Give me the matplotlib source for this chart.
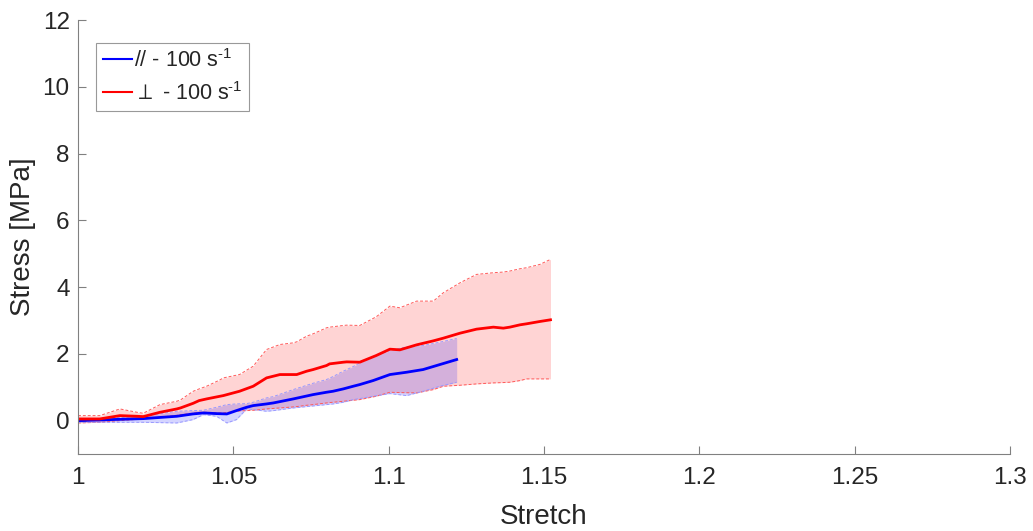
import numpy as np
import matplotlib
matplotlib.use("Agg")
import matplotlib.pyplot as plt

plt.rcParams['font.family'] = ['Liberation Sans', 'DejaVu Sans']
plt.rcParams['mathtext.fontset'] = 'custom'
plt.rcParams['mathtext.rm'] = 'Liberation Sans'
plt.rcParams['mathtext.it'] = 'Liberation Sans'
plt.rcParams['mathtext.fallback'] = 'stixsans'

# Perpendicular (red) series
red_x = [1.0, 1.007, 1.0135, 1.019, 1.021, 1.0264, 1.0318, 1.033, 1.0371, 1.039, 1.0414, 1.0457,
         1.0468, 1.052, 1.0564, 1.0607, 1.065, 1.0693, 1.0704, 1.0736, 1.0757, 1.08, 1.081,
         1.0854, 1.0865, 1.0907, 1.096, 1.1004, 1.1036, 1.109, 1.1144, 1.1176, 1.123, 1.1283,
         1.1337, 1.1369, 1.139, 1.1423, 1.1444, 1.1487, 1.1521]
red_mean = [0.05, 0.05, 0.15, 0.13, 0.12, 0.25, 0.35, 0.38, 0.52, 0.6, 0.65, 0.73,
            0.75, 0.88, 1.03, 1.28, 1.38, 1.38, 1.38, 1.48, 1.53, 1.65, 1.7,
            1.75, 1.76, 1.75, 1.95, 2.14, 2.12, 2.27, 2.39, 2.47, 2.62, 2.74,
            2.8, 2.77, 2.8, 2.87, 2.9, 2.97, 3.02]
red_upper = [0.15, 0.15, 0.35, 0.25, 0.22, 0.48, 0.58, 0.62, 0.88, 0.95, 1.03, 1.22,
             1.28, 1.38, 1.63, 2.13, 2.28, 2.33, 2.36, 2.53, 2.6, 2.78, 2.8,
             2.85, 2.86, 2.85, 3.11, 3.43, 3.38, 3.58, 3.58, 3.83, 4.13, 4.38,
             4.43, 4.45, 4.48, 4.55, 4.58, 4.68, 4.83]
red_lower = [-0.07, -0.05, 0.0, 0.04, 0.05, 0.1, 0.16, 0.18, 0.22, 0.25, 0.25, 0.23,
             0.23, 0.29, 0.31, 0.35, 0.38, 0.41, 0.42, 0.46, 0.48, 0.53, 0.54,
             0.58, 0.59, 0.63, 0.73, 0.85, 0.84, 0.83, 0.93, 1.03, 1.06, 1.1,
             1.13, 1.14, 1.15, 1.2, 1.25, 1.25, 1.25]

# Parallel (blue) series
blue_x = [1.0, 1.0103, 1.021, 1.0318, 1.037, 1.0404, 1.0446, 1.0479, 1.051, 1.0543, 1.0564,
          1.0607, 1.0629, 1.0693, 1.0757, 1.08, 1.0821, 1.0854, 1.0886, 1.0907, 1.095,
          1.1004, 1.1058, 1.1111, 1.1165, 1.1219]
blue_mean = [0.0, 0.03, 0.06, 0.13, 0.2, 0.23, 0.21, 0.2, 0.3, 0.4, 0.45,
             0.5, 0.53, 0.65, 0.78, 0.85, 0.88, 0.95, 1.03, 1.08, 1.2,
             1.38, 1.45, 1.53, 1.68, 1.83]
blue_upper = [0.03, 0.08, 0.13, 0.28, 0.3, 0.31, 0.4, 0.48, 0.5, 0.51, 0.55,
              0.68, 0.72, 0.93, 1.12, 1.23, 1.32, 1.48, 1.62, 1.73, 1.9,
              2.1, 2.21, 2.25, 2.35, 2.46]
blue_lower = [-0.05, -0.05, -0.05, -0.07, 0.03, 0.18, 0.13, -0.07, 0.03, 0.35, 0.33,
              0.28, 0.3, 0.38, 0.44, 0.48, 0.5, 0.55, 0.63, 0.66, 0.73,
              0.81, 0.75, 0.88, 1.03, 1.15]

x_ticks = [1, 1.05, 1.1, 1.15, 1.2, 1.25, 1.3]
x_labels = ['1', '1.05', '1.1', '1.15', '1.2', '1.25', '1.3']
y_ticks = [0, 2, 4, 6, 8, 10, 12]

txt = '#262626'
fig = plt.figure(figsize=(10.33, 5.31), dpi=100)
ax = fig.add_axes([0.0755, 0.145, 0.9022, 0.8173])

ax.fill_between(red_x, red_lower, red_upper, color=(1, 0, 0), alpha=0.17, linewidth=0)
ax.fill_between(blue_x, blue_lower, blue_upper, color=(0, 0, 1), alpha=0.17, linewidth=0)
for xs, b in [(red_x, red_upper), (red_x, red_lower)]:
    ax.plot(xs, b, color=(1, 0.35, 0.35), lw=0.7, ls=(0, (3, 2)))
for xs, b in [(blue_x, blue_upper), (blue_x, blue_lower)]:
    ax.plot(xs, b, color=(0.6, 0.6, 1), lw=0.7, ls=(0, (3, 2)))
ax.plot(blue_x, blue_mean, color=(0, 0, 1), lw=2, label='// - 100 s$^{\\text{-1}}$')
ax.plot(red_x, red_mean, color=(1, 0, 0), lw=2, label='$\\perp$ - 100 s$^{\\text{-1}}$')

ax.set_xlim(1, 1.3)
ax.set_ylim(-1, 12)
ax.set_xticks(x_ticks)
ax.set_xticklabels(x_labels)
ax.set_yticks(y_ticks)
for s in ['top', 'right']:
    ax.spines[s].set_visible(False)
for s in ['left', 'bottom']:
    ax.spines[s].set_color('#808080')
    ax.spines[s].set_linewidth(0.8)
ax.tick_params(direction='in', length=6, width=0.8, color='#808080', labelsize=17.5,
               labelcolor=txt)
ax.tick_params(axis='x', pad=9)
ax.tick_params(axis='y', pad=6)
ax.set_xlabel('Stretch', fontsize=20, color=txt, labelpad=11)
ax.set_ylabel('Stress [MPa]', fontsize=20, color=txt, labelpad=5)

leg = ax.legend(loc='upper left', bbox_to_anchor=(0.0195, 0.948), fontsize=15.5,
                frameon=True, fancybox=False, handlelength=1.35, handletextpad=0.1,
                borderpad=0.3, labelspacing=0.45, borderaxespad=0)
leg.get_frame().set_edgecolor('#808080')
leg.get_frame().set_linewidth(0.8)
for t in leg.get_texts():
    t.set_color(txt)
for l in leg.get_lines():
    l.set_linewidth(1.5)

fig.savefig('out.png', dpi=100)
